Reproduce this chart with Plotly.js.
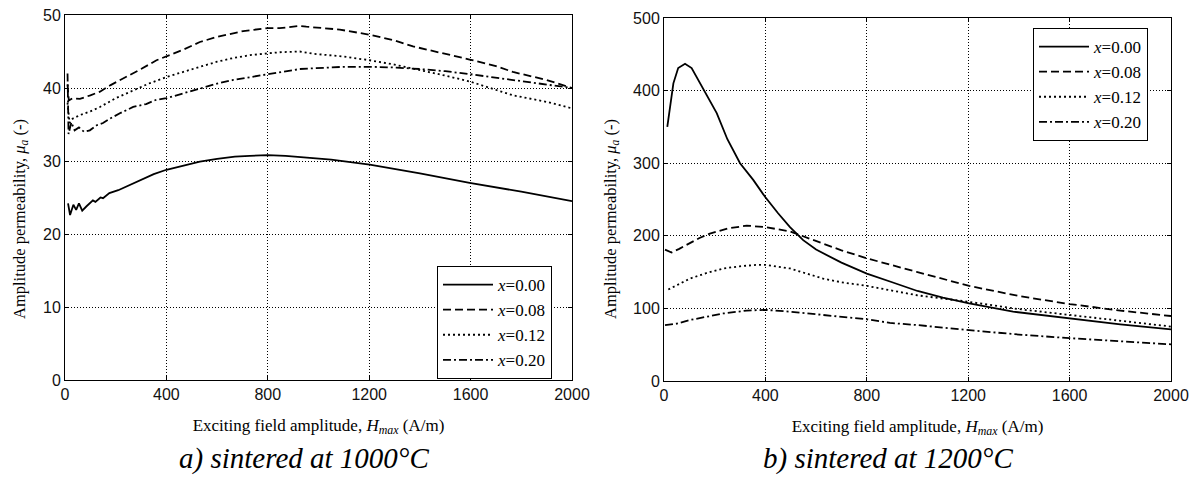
<!DOCTYPE html>
<html>
<head>
<meta charset="utf-8">
<script src="https://cdn.plot.ly/plotly-3.0.1.min.js"></script>
<style>html,body{margin:0;padding:0;background:#fff;}#chart{width:1196px;height:477px;}</style>
</head>
<body>
<div id="chart"></div>
<script>
// ---- Data: (a) sintered at 1000°C ----
var seriesNames = ['<i>x</i>=0.00', '<i>x</i>=0.08', '<i>x</i>=0.12', '<i>x</i>=0.20'];
var xTicks = [0, 400, 800, 1200, 1600, 2000];

var a_x000 = [12, 20, 33, 44, 55, 68, 85, 110, 120, 140, 150, 175, 210, 243, 296, 350, 400, 470, 532, 600, 670, 729, 800, 870, 950, 1050, 1202, 1400, 1596, 1800, 2000];
var a_y000 = [24.2, 22.6, 24.0, 23.3, 24.2, 23.2, 23.8, 24.6, 24.4, 25.0, 24.9, 25.6, 26.0, 26.5, 27.4, 28.2, 28.8, 29.4, 29.9, 30.3, 30.6, 30.7, 30.8, 30.7, 30.5, 30.2, 29.5, 28.3, 27.0, 25.8, 24.5];

var a_x008 = [10, 15, 30, 59, 100, 138, 180, 230, 300, 361, 400, 470, 532, 600, 703, 800, 847, 926, 952, 1084, 1202, 1300, 1373, 1500, 1596, 1700, 1767, 1900, 2000];
var a_y008 = [40.5, 38.3, 38.6, 38.5, 39.0, 39.5, 40.4, 41.3, 42.6, 43.8, 44.3, 45.3, 46.3, 47.0, 47.8, 48.2, 48.2, 48.5, 48.4, 48.0, 47.3, 46.5, 45.7, 44.7, 43.9, 43.0, 42.2, 41.1, 40.0];

var a_x012 = [10, 18, 30, 60, 100, 138, 200, 269, 330, 400, 463, 532, 600, 663, 730, 800, 847, 926, 978, 1100, 1202, 1300, 1399, 1500, 1596, 1700, 1767, 1900, 2000];
var a_y012 = [38.0, 35.2, 35.8, 36.3, 36.8, 37.4, 38.6, 39.7, 40.6, 41.5, 42.2, 42.9, 43.6, 44.1, 44.5, 44.7, 44.9, 45.0, 44.7, 44.3, 43.8, 43.2, 42.5, 41.7, 40.9, 39.8, 39.0, 38.1, 37.2];

var a_x020 = [10, 14, 25, 38, 55, 75, 98, 125, 150, 177, 220, 269, 320, 361, 400, 470, 532, 600, 663, 730, 800, 847, 926, 978, 1100, 1202, 1307, 1399, 1500, 1596, 1700, 1767, 1900, 2000];
var a_y020 = [42.0, 33.7, 35.3, 34.2, 34.6, 34.0, 34.2, 34.9, 35.2, 35.8, 36.6, 37.4, 37.8, 38.4, 38.6, 39.3, 40.0, 40.6, 41.1, 41.5, 41.9, 42.2, 42.6, 42.7, 42.9, 42.9, 42.8, 42.6, 42.3, 41.9, 41.4, 41.1, 40.5, 40.0];

// ---- Data: (b) sintered at 1200°C ----
var b_x000 = [13, 24, 37, 56, 83, 109, 142, 175, 208, 250, 300, 352, 400, 450, 497, 549, 600, 700, 800, 900, 1000, 1100, 1204, 1377, 1600, 1800, 2000];
var b_y000 = [350, 378, 410, 431, 437, 431, 410, 390, 369, 333, 300, 277, 253, 231, 212, 194, 181, 163, 148, 136, 124, 115, 107, 95.5, 86, 78, 71];

var b_x008 = [4, 30, 60, 102, 140, 181, 250, 326, 400, 497, 602, 700, 800, 891, 1000, 1204, 1400, 1600, 1800, 2000];
var b_y008 = [181, 177, 182, 190, 197, 203, 210, 214, 212, 206, 192, 180, 169, 160, 150, 131, 117, 106, 97, 89.5];

var b_x012 = [17, 60, 102, 170, 234, 300, 365, 400, 497, 628, 700, 800, 891, 1000, 1204, 1400, 1600, 1800, 2000];
var b_y012 = [126, 134, 141, 149, 155, 158, 160, 160, 155, 141, 136, 131, 125, 118, 109, 99, 91, 83, 75];

var b_x020 = [4, 50, 102, 170, 234, 326, 400, 497, 628, 800, 891, 1000, 1204, 1400, 1600, 1800, 2000];
var b_y020 = [77, 79, 84, 89, 93, 97, 98, 95.5, 91, 85, 80, 77, 70, 64, 59, 54.5, 50.5];

var captions = ['<i>a) sintered at 1000°C</i>', '<i>b) sintered at 1200°C</i>'];
var xTitle = 'Exciting field amplitude, <i>H</i><sub><i>max</i></sub> (A/m)';
var yTitle = 'Amplitude permeability, <i>μ</i><sub><i>a</i></sub> (-)';

// ---- Build ----
var dashes = ['solid', '8px,4px', '2px,3px', '8px,3px,2px,3px'];
function tr(x, y, i, xa, ya, leg) {
  return {x: x, y: y, type: 'scatter', mode: 'lines', name: seriesNames[i],
    xaxis: xa, yaxis: ya, legend: leg,
    line: {color: '#000', width: 1.8, dash: dashes[i]}};
}
var data = [
  tr(a_x000, a_y000, 0, 'x', 'y', 'legend'),
  tr(a_x008, a_y008, 1, 'x', 'y', 'legend'),
  tr(a_x012, a_y012, 2, 'x', 'y', 'legend'),
  tr(a_x020, a_y020, 3, 'x', 'y', 'legend'),
  tr(b_x000, b_y000, 0, 'x2', 'y2', 'legend2'),
  tr(b_x008, b_y008, 1, 'x2', 'y2', 'legend2'),
  tr(b_x012, b_y012, 2, 'x2', 'y2', 'legend2'),
  tr(b_x020, b_y020, 3, 'x2', 'y2', 'legend2')
];

var W = 1196, H = 477;
var serif = '"Liberation Serif", "Times New Roman", serif';
var tickFont = {family: '"Liberation Sans", Arial, sans-serif', size: 16, color: '#111'};
var titleFont = {family: serif, size: 17, color: '#000'};
function xax(l, r, anchor) {
  return {domain: [l / W, r / W], anchor: anchor, range: [0, 2000], tickvals: xTicks,
    ticktext: xTicks.map(String), showline: true, mirror: 'ticks', linecolor: '#000', linewidth: 1,
    ticks: 'inside', ticklen: 4, tickcolor: '#000', showgrid: true, gridcolor: '#000', griddash: '1px,2px',
    gridwidth: 1, zeroline: false, tickfont: tickFont,
    title: {text: xTitle, font: titleFont, standoff: 16}};
}
function yax(top, bot, anchor, rng, dt) {
  return {domain: [(H - bot) / H, (H - top) / H], anchor: anchor, range: rng, dtick: dt, tick0: 0,
    showline: true, mirror: 'ticks', linecolor: '#000', linewidth: 1,
    ticks: 'inside', ticklen: 4, tickcolor: '#000', showgrid: true, gridcolor: '#000', griddash: '1px,2px',
    gridwidth: 1, zeroline: false, tickfont: tickFont};
}
var legFont = {family: serif, size: 17, color: '#000'};
function ann(text, x, y, size, angle) {
  return {text: text, xref: 'paper', yref: 'paper', x: x / W, y: (H - y) / H, showarrow: false,
    xanchor: 'center', yanchor: 'middle', textangle: angle, font: {family: serif, size: size, color: '#000'}};
}
var layout = {
  width: W, height: H, margin: {l: 0, r: 0, t: 0, b: 0},
  paper_bgcolor: '#fff', plot_bgcolor: '#fff', showlegend: true,
  xaxis: xax(65, 572, 'y'),
  yaxis: yax(15, 380, 'x', [0, 50], 10),
  xaxis2: xax(664, 1171, 'y2'),
  yaxis2: yax(18, 381, 'x2', [0, 500], 100),
  legend: {x: 437 / W, y: (H - 266) / H, xanchor: 'left', yanchor: 'top', bgcolor: '#fff',
    bordercolor: '#000', borderwidth: 1, font: legFont, itemwidth: 50, tracegroupgap: 0},
  legend2: {x: 1033 / W, y: (H - 28) / H, xanchor: 'left', yanchor: 'top', bgcolor: '#fff',
    bordercolor: '#000', borderwidth: 1, font: legFont, itemwidth: 50, tracegroupgap: 0},
  annotations: [
    ann(yTitle, 20, 219, 16.5, -90),
    ann(yTitle, 611, 219, 16.5, -90),
    ann(captions[0], 304, 458, 29, 0),
    ann(captions[1], 888, 458, 29, 0)
  ]
};
Plotly.newPlot('chart', data, layout, {staticPlot: true, displayModeBar: false});
</script>
</body>
</html>
